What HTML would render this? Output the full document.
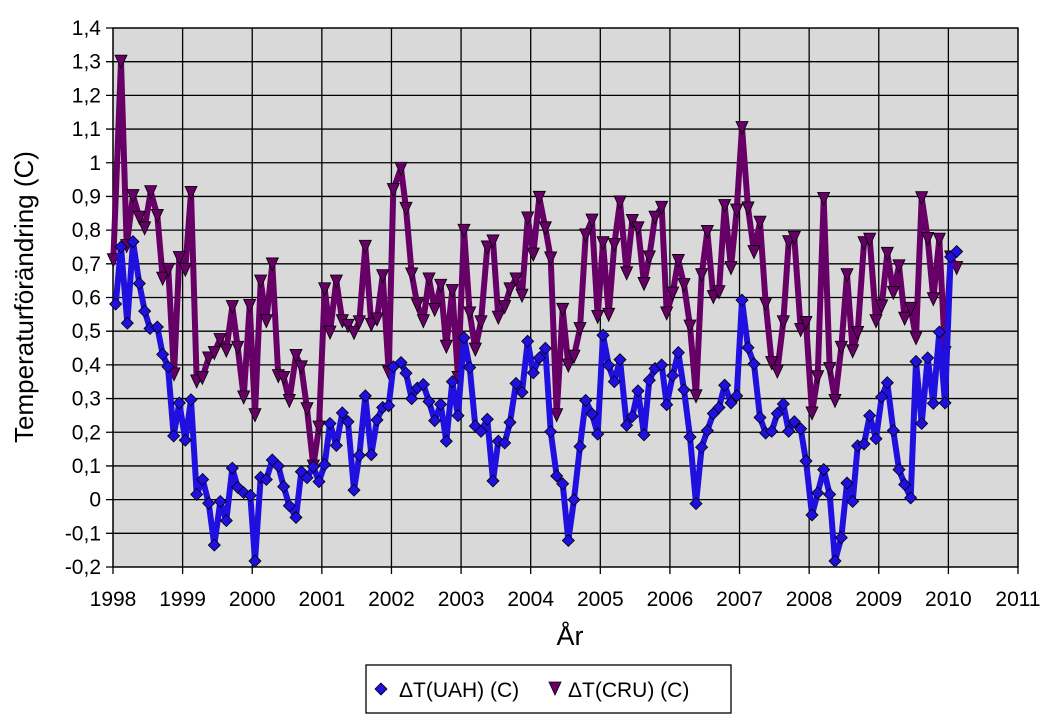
<!DOCTYPE html>
<html><head><meta charset="utf-8"><style>
body{margin:0;background:#fff;}
svg text{font-family:"Liberation Sans",Arial,sans-serif;}
</style></head><body>
<svg id="s" width="1048" height="719" xmlns="http://www.w3.org/2000/svg">
<rect x="113" y="28" width="905" height="539" fill="#d9d9d9"/>
<g id="grid" stroke="#000" stroke-width="1.3"></g>
<rect x="113" y="28" width="905" height="539" fill="none" stroke="#000" stroke-width="1.3"/>
<g id="lab" font-size="21" fill="#000"></g>
<text x="570" y="645" font-size="27" text-anchor="middle">År</text>
<text transform="translate(33,297) rotate(-90)" font-size="26" text-anchor="middle">Temperaturförändring (C)</text>
<g id="series"></g>
<rect x="366" y="665" width="365" height="48" fill="#fff" stroke="#000" stroke-width="1.3"/>
<path d="M381,683 l6,6 l-6,6 l-6,-6z" fill="#2010e0" stroke="#000" stroke-width="0.8"/>
<text x="399" y="697" font-size="21">ΔT(UAH) (C)</text>
<path d="M549,682 l12,0 l-6,13z" fill="#660066" stroke="#000" stroke-width="0.8"/>
<text x="568" y="697" font-size="21">ΔT(CRU) (C)</text>
</svg>
<script>
var NS="http://www.w3.org/2000/svg";
function el(t,a,p){var e=document.createElementNS(NS,t);for(var k in a)e.setAttribute(k,a[k]);p.appendChild(e);return e;}
var grid=document.getElementById('grid'),lab=document.getElementById('lab');
var step=(567-28)/16;
for(var k=0;k<=16;k++){var y=28+k*step;el('line',{x1:106,x2:1018,y1:y,y2:y},grid);
var v=(14-k)/10;var t=el('text',{x:101,y:y+7,'text-anchor':'end'},lab);t.textContent=(Math.round(v*10)/10).toString().replace('.',',');}
var xs=(1018-113)/13;
for(var i=0;i<=13;i++){var x=113+i*xs;el('line',{x1:x,x2:x,y1:28,y2:574},grid);
var t=el('text',{x:x,y:606,'text-anchor':'middle'},lab);t.textContent=1998+i;}
function conv(ox,arr){var r=[];for(var i=0;i<arr.length;i+=2)r.push([ox+arr[i]/3,22.9+arr[i+1]*0.3545]);return r;}
var b=conv(100,[47,793,63,632,82,847,99,617,118,735,134,813,150,862,172,858,188,935,204,970,221,1165,238,1072,256,1177,273,1063,290,1330,308,1288,326,1355,343,1473,361,1350,379,1404,397,1256,413,1310,431,1325,451,1333,465,1518,482,1282,499,1288,517,1233,535,1250,551,1308,568,1362,588,1395,604,1266,621,1283,640,1252,657,1294,674,1246,690,1130,709,1192,727,1100,744,1125,762,1318,778,1220,796,1052,814,1218,831,1120,848,1085,866,1080,880,970])
.concat(conv(400,[3,958,18,988,35,1060,52,1030,70,1020,87,1068,104,1122,122,1076,139,1180,157,1012,174,1108,192,888,209,972,226,1137,243,1152,262,1118,279,1292,295,1180,314,1185,330,1127,348,1017,366,1042,383,898,400,987,418,945,436,918,452,1153,470,1278,488,1300,505,1460,522,1345,540,1195,557,1065,576,1103,593,1160,609,881,626,966,643,1012,660,950,680,1135,697,1110,714,1038,732,1162,748,1008,765,975,785,965,800,1077,818,995,835,930,852,1035,870,1168,888,1356]))
.concat(conv(700,[5,1197,22,1150,40,1102,57,1085,74,1022,93,1072,110,1052,126,782,144,916,162,962,180,1113,197,1157,215,1152,232,1102,250,1075,266,1152,283,1125,302,1145,318,1236,336,1388,353,1326,371,1260,389,1330,405,1518,424,1452,441,1298,458,1350,473,1193,492,1188,509,1108,528,1173,545,1055,562,1015,580,1150,597,1260,614,1302,632,1340,648,955,665,1130,683,945,700,1073,718,872,735,1072,752,660,770,645]));
var c=conv(100,[40,668,63,108,80,628,99,487,118,548,134,578,152,476,172,543,188,720,205,695,222,990,238,662,256,695,273,478,290,1010,307,1000,326,945,343,930,360,893,379,923,397,800,413,915,431,1055,449,797,465,1105,482,728,499,840,517,680,535,995,551,1000,568,1065,588,938,604,970,621,1088,640,1250,657,1140,674,750,690,872,709,728,727,840,744,853,762,873,778,843,796,630,814,850,831,835,848,713,866,985,880,470])
.concat(conv(400,[3,410,18,523,35,708,52,795,70,840,87,722,104,808,122,740,139,912,157,755,174,1000,192,585,209,818,226,920,243,843,262,632,279,615,295,830,314,800,330,750,348,722,366,768,383,550,400,652,418,492,436,578,452,663,470,1105,488,808,505,965,522,940,540,862,557,598,576,556,593,828,609,620,626,822,643,625,660,505,680,705,697,557,714,578,732,735,748,660,765,548,785,520,800,818,818,762,835,670,852,738,870,855,888,1052]))
.concat(conv(700,[5,710,22,588,40,772,57,758,74,515,93,690,110,528,126,295,144,522,162,645,180,562,197,792,215,958,232,982,250,843,266,617,283,605,302,865,318,845,336,1100,353,998,371,495,389,975,405,1065,424,915,441,710,458,925,473,873,492,620,509,610,528,840,545,798,562,650,580,760,597,685,614,833,632,805,648,888,665,493,683,608,700,778,718,610,735,930,752,660,770,690]));
var g=document.getElementById('series');
function pts(a){return a.map(function(p){return p[0].toFixed(1)+','+p[1].toFixed(1)}).join(' ');}
el('polyline',{points:pts(c),fill:'none',stroke:'#660066','stroke-width':6,'stroke-linejoin':'round'},g);
c.forEach(function(p){el('path',{d:'M'+(p[0]-6)+','+(p[1]-6)+' l12,0 l-6,13z',fill:'#660066',stroke:'#000','stroke-width':0.8},g);});
el('polyline',{points:pts(b),fill:'none',stroke:'#2010e0','stroke-width':6,'stroke-linejoin':'round'},g);
b.forEach(function(p){el('path',{d:'M'+p[0]+','+(p[1]-6)+' l6,6 l-6,6 l-6,-6z',fill:'#2010e0',stroke:'#000','stroke-width':0.8},g);});
</script>
</body></html>
